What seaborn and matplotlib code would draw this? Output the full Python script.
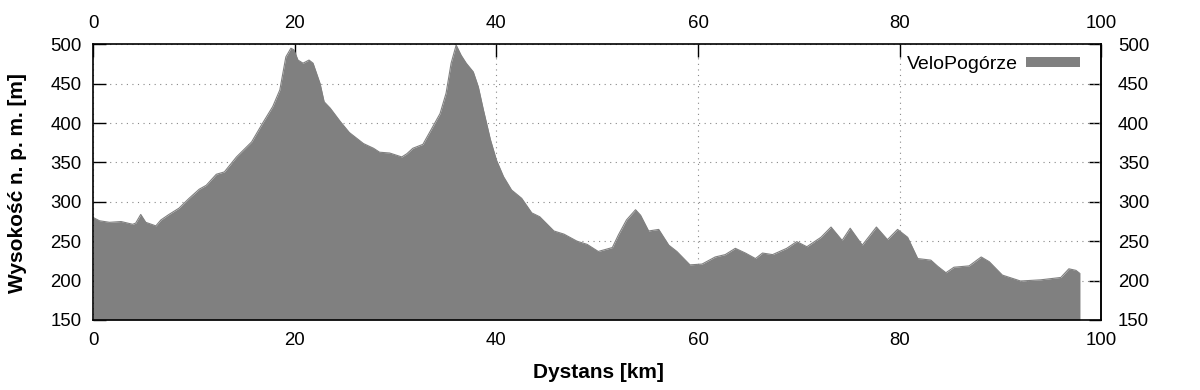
import numpy as np
import pandas as pd
import matplotlib
matplotlib.use("Agg")
import matplotlib.pyplot as plt
import seaborn as sns

# elevation profile
dist_km = [0.0, 0.6, 1.6, 2.75, 3.9, 4.2, 4.7, 5.2, 6.2, 6.7, 7.5, 8.5, 9.5, 10.5, 11.2,
           12.2, 13.0, 14.2, 15.7, 16.8, 17.8, 18.5, 19.1, 19.6, 19.9, 20.3, 20.8, 21.4,
           21.8, 22.5, 22.9, 23.5, 24.5, 25.4, 26.8, 27.8, 28.4, 29.4, 30.6, 31.1, 31.7,
           32.7, 33.4, 34.4, 35.0, 35.5, 36.0, 36.5, 37.0, 37.7, 38.2, 38.7, 39.4, 40.0,
           40.7, 41.5, 42.5, 43.5, 44.3, 45.7, 46.7, 48.0, 49.0, 50.1, 51.5, 52.1, 52.9,
           53.8, 54.3, 55.1, 56.1, 57.1, 57.9, 59.2, 60.4, 61.7, 62.7, 63.7, 64.7, 65.7,
           66.4, 67.4, 68.8, 69.8, 70.8, 72.2, 73.2, 74.3, 75.1, 76.3, 77.7, 78.8, 79.8,
           80.8, 81.8, 83.1, 83.8, 84.6, 85.4, 86.9, 88.1, 88.9, 90.2, 92.0, 94.0, 96.0,
           96.8, 97.5, 97.9]
elev_m = [280, 276, 274, 275, 271.5, 273, 284, 274, 269.5, 277, 284, 292, 304.5, 316, 321,
          335, 338, 357, 376, 400, 421, 442, 484, 495, 493, 480, 476, 480,
          476, 450, 427, 419, 402, 388, 374, 368, 363, 362, 357, 361, 368,
          373, 389, 412, 438, 476, 499, 486, 476, 465, 446, 417, 379, 353,
          332, 315, 304.5, 286, 281, 263, 259, 250, 246, 237, 242, 258, 277,
          290, 283, 263, 265, 245, 237, 220, 221, 230, 233, 241, 235, 228,
          235, 233, 241, 249.5, 243, 255, 268, 251, 266.5, 245, 268, 252, 265,
          255, 228, 226, 218, 210, 217, 218.7, 230, 224, 207, 199.5, 201, 204,
          215, 213, 209]
x_ticks = [0, 20, 40, 60, 80, 100]
y_ticks = [150, 200, 250, 300, 350, 400, 450, 500]

df = pd.DataFrame({"Dystans": dist_km, "Wysokosc": elev_m})

sns.set_style("white")
plt.rcParams["font.family"] = ["Liberation Sans", "DejaVu Sans"]
plt.rcParams["text.color"] = "black"
plt.rcParams["axes.labelcolor"] = "black"
plt.rcParams["xtick.color"] = "black"
plt.rcParams["ytick.color"] = "black"

fig = plt.figure(figsize=(12, 3.9), dpi=100)
ax = fig.add_axes([0.0778, 0.1795, 0.8398, 0.7069])

gray = "#808080"
sns.lineplot(data=df, x="Dystans", y="Wysokosc", color=gray, linewidth=0.8, ax=ax, zorder=3)
ax.fill_between(df["Dystans"], 150, df["Wysokosc"], color=gray, lw=0, zorder=3,
                label="VeloPogórze")

ax.set_xlim(0, 100)
ax.set_ylim(150, 500)
ax.set_xticks(x_ticks)
ax.set_yticks(y_ticks)
ax.grid(True, linestyle=(0, (1, 4)), color="#888888", linewidth=0.8, zorder=0)
ax.set_axisbelow(True)

for s in ax.spines.values():
    s.set_color("black")
    s.set_linewidth(1.2)
    s.set_zorder(5)

ax.tick_params(axis="x", direction="in", length=9, width=1, top=True, labeltop=True,
               labelsize=13.4, pad=9)
ax.tick_params(axis="y", direction="in", length=9, width=1, left=True, right=False,
               labelsize=13.4, pad=8.4)

# right-hand labels sit further from the frame than the left ones
ax_r = ax.secondary_yaxis("right")
ax_r.set_yticks(y_ticks)
ax_r.tick_params(direction="in", length=9, width=1, labelsize=13.4, pad=12)
ax_r.spines["right"].set_linewidth(1.2)

ax.set_xlabel("Dystans [km]", fontsize=15, fontweight="bold")
ax.set_ylabel("Wysokość n. p. m. [m]", fontsize=15, fontweight="bold")
ax.xaxis.set_label_coords(0.5007, -0.155)
ax.yaxis.set_label_coords(-0.0659, 0.496)

ax.legend(loc="upper right", bbox_to_anchor=(1 - 21 / 1006, 1 - 12 / 275.7),
          frameon=False, markerfirst=False, fontsize=14, borderpad=0, borderaxespad=0,
          handlelength=2.78, handleheight=0.43, handletextpad=0.41)

fig.savefig("out.png", dpi=100)
